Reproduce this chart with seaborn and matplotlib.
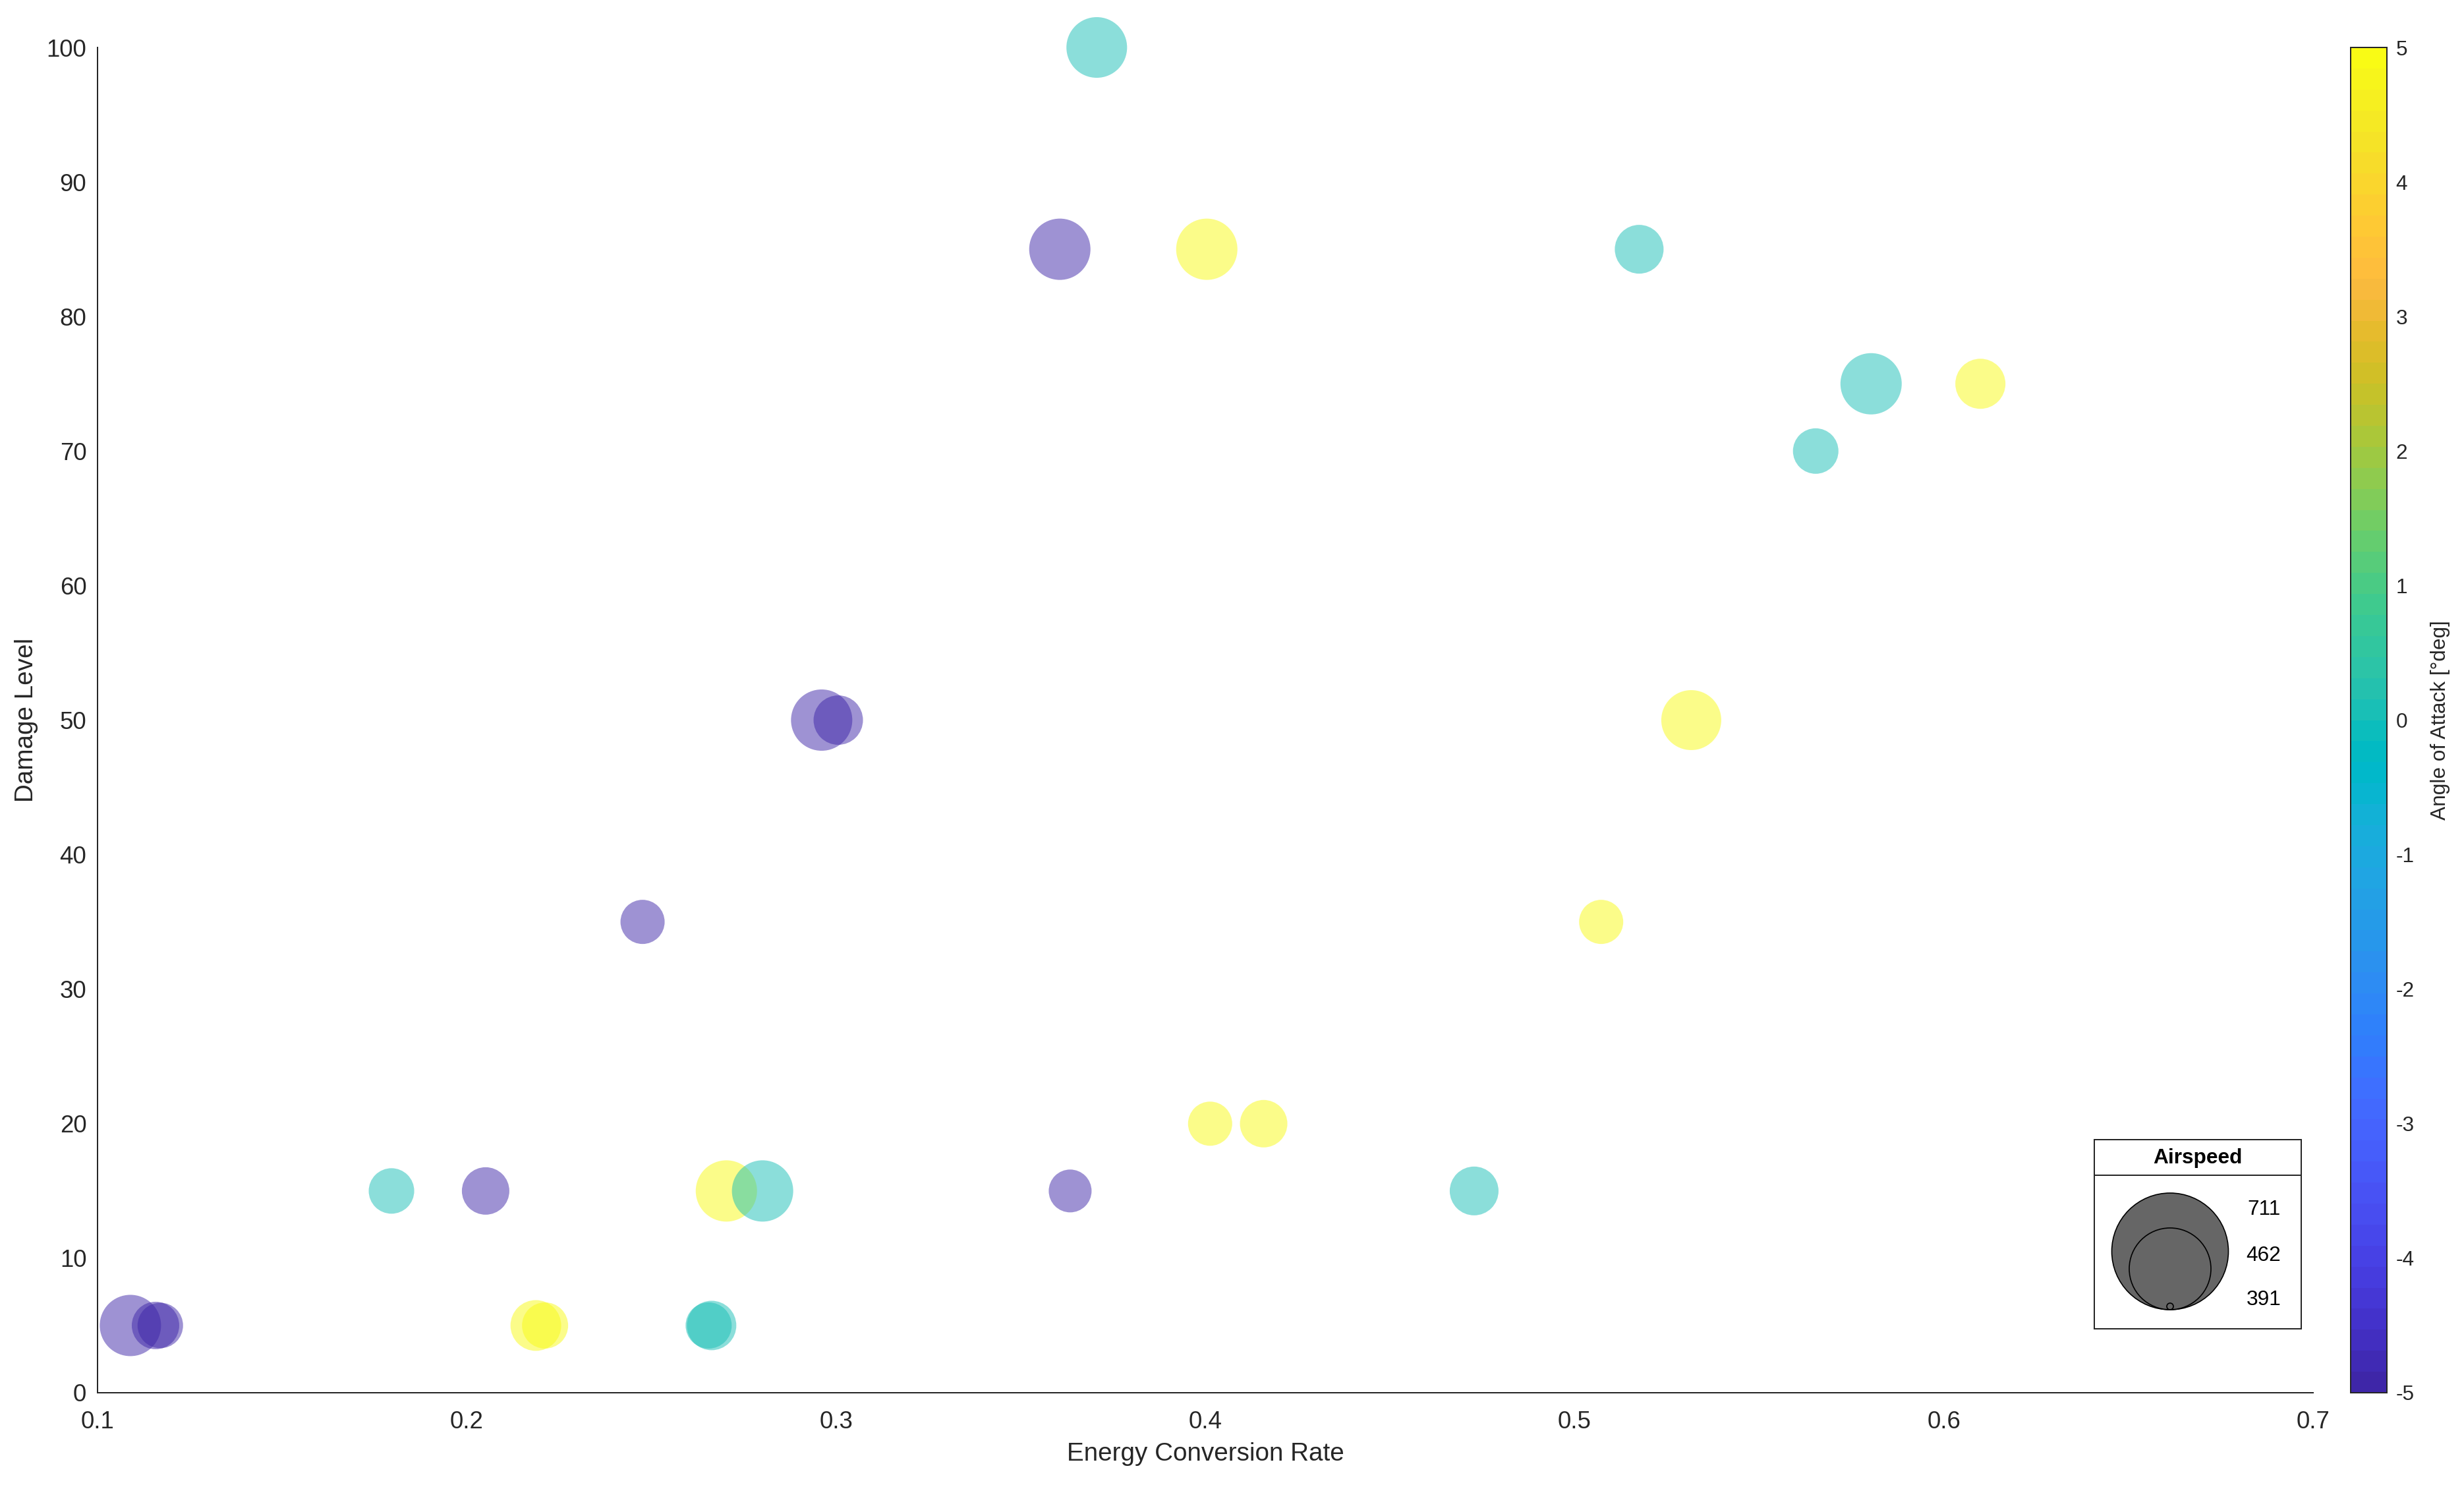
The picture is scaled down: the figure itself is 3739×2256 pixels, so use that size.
import numpy as np
import pandas as pd
import matplotlib
matplotlib.use('Agg')
import matplotlib.pyplot as plt
import seaborn as sns
from matplotlib.colors import ListedColormap, Normalize
from matplotlib.cm import ScalarMappable
from matplotlib.patches import Circle

# Data
energy_rate = [0.1089, 0.1157, 0.1170, 0.1796, 0.2051, 0.2187, 0.2212, 0.2476,
               0.2655, 0.2663, 0.2703, 0.2801, 0.2961, 0.3006, 0.3606, 0.3634,
               0.3706, 0.4004, 0.4013, 0.4158, 0.4728, 0.5072, 0.5175, 0.5316,
               0.5653, 0.5803, 0.6099]
damage_level = [5, 5, 5, 15, 15, 5, 5, 35,
                5, 5, 15, 15, 50, 50, 85, 15,
                100, 85, 20, 20, 15, 35, 85, 50,
                70, 75, 75]
angle_of_attack = [-5, -5, -5, 0, -5, 5, 5, -5,
                   0, 0, 5, 0, -5, -5, -5, -5,
                   0, 5, 5, 5, 0, 5, 0, 5,
                   0, 0, 5]
airspeed = [711, 471, 437, 437, 471, 528, 448, 414,
            448, 505, 711, 711, 711, 505, 711, 391,
            700, 711, 414, 471, 494, 414, 494, 688,
            437, 711, 517]

legend_values = [711, 462, 391]
legend_diam_px = [177, 124, 10]

# MATLAB parula colormap
parula = [
    [0.2422, 0.1504, 0.6603], [0.2504, 0.1650, 0.7076], [0.2578, 0.1818, 0.7511],
    [0.2647, 0.1978, 0.7952], [0.2706, 0.2147, 0.8364], [0.2751, 0.2342, 0.8710],
    [0.2783, 0.2559, 0.8991], [0.2803, 0.2782, 0.9221], [0.2813, 0.3006, 0.9414],
    [0.2810, 0.3228, 0.9579], [0.2795, 0.3447, 0.9717], [0.2760, 0.3667, 0.9829],
    [0.2699, 0.3892, 0.9906], [0.2602, 0.4123, 0.9952], [0.2440, 0.4358, 0.9988],
    [0.2206, 0.4603, 0.9973], [0.1963, 0.4847, 0.9892], [0.1834, 0.5074, 0.9798],
    [0.1786, 0.5289, 0.9682], [0.1764, 0.5499, 0.9520], [0.1687, 0.5703, 0.9359],
    [0.1540, 0.5902, 0.9218], [0.1460, 0.6091, 0.9079], [0.1380, 0.6276, 0.8973],
    [0.1248, 0.6459, 0.8883], [0.1113, 0.6635, 0.8763], [0.0952, 0.6798, 0.8598],
    [0.0689, 0.6948, 0.8394], [0.0297, 0.7082, 0.8163], [0.0036, 0.7203, 0.7917],
    [0.0067, 0.7312, 0.7660], [0.0433, 0.7411, 0.7394], [0.0964, 0.7500, 0.7120],
    [0.1408, 0.7584, 0.6842], [0.1717, 0.7670, 0.6554], [0.1938, 0.7758, 0.6251],
    [0.2161, 0.7843, 0.5923], [0.2470, 0.7918, 0.5567], [0.2906, 0.7973, 0.5188],
    [0.3406, 0.8008, 0.4789], [0.3909, 0.8029, 0.4354], [0.4456, 0.8024, 0.3909],
    [0.5044, 0.7993, 0.3480], [0.5616, 0.7942, 0.3045], [0.6174, 0.7876, 0.2612],
    [0.6720, 0.7793, 0.2227], [0.7242, 0.7698, 0.1910], [0.7738, 0.7598, 0.1646],
    [0.8203, 0.7498, 0.1535], [0.8634, 0.7406, 0.1596], [0.9035, 0.7330, 0.1774],
    [0.9393, 0.7288, 0.2100], [0.9728, 0.7298, 0.2394], [0.9956, 0.7434, 0.2371],
    [0.9970, 0.7659, 0.2199], [0.9952, 0.7893, 0.2028], [0.9892, 0.8136, 0.1885],
    [0.9786, 0.8386, 0.1766], [0.9676, 0.8639, 0.1643], [0.9610, 0.8890, 0.1537],
    [0.9597, 0.9135, 0.1423], [0.9628, 0.9373, 0.1265], [0.9691, 0.9606, 0.1064],
    [0.9769, 0.9839, 0.0805]]
parula_cmap = ListedColormap(parula, name='parula')

df = pd.DataFrame({'rate': energy_rate, 'damage': damage_level,
                   'aoa': angle_of_attack, 'airspeed': airspeed})

sns.set_style('white')
plt.rcParams['font.family'] = ['Liberation Sans', 'DejaVu Sans']
plt.rcParams['axes.unicode_minus'] = False

DPI = 240
W, H = 3739, 2256
fig = plt.figure(figsize=(W / DPI, H / DPI), dpi=DPI)

# axes placement (pixels)
ax_l, ax_r, ax_t, ax_b = 148, 3510, 72, 2113
ax = fig.add_axes([ax_l / W, 1 - ax_b / H, (ax_r - ax_l) / W, (ax_b - ax_t) / H])

# bubble diameter linear in airspeed, like MATLAB bubblechart
amin, amax = min(airspeed), max(airspeed)
dmin_px, dmax_px = 65, 93
px2pt = 72 / DPI
size_map = {a: ((dmin_px + (a - amin) / (amax - amin) * (dmax_px - dmin_px)) * px2pt) ** 2
            for a in sorted(set(airspeed))}

sns.scatterplot(data=df, x='rate', y='damage', hue='aoa', size='airspeed',
                palette=parula_cmap, hue_norm=(-5, 5), sizes=size_map,
                alpha=0.5, linewidth=0, edgecolor='none', legend=False, ax=ax)
for coll in ax.collections:
    coll.set_clip_on(False)

txt_color = '#262626'
ax.set_xlim(0.1, 0.7)
ax.set_ylim(0, 100)
ax.set_xticks(np.arange(0.1, 0.71, 0.1))
ax.set_xticklabels(['0.1', '0.2', '0.3', '0.4', '0.5', '0.6', '0.7'])
ax.set_yticks(np.arange(0, 101, 10))
ax.tick_params(axis='both', direction='in', length=10, width=0.6,
               colors=txt_color, labelsize=11)
ax.tick_params(axis='x', pad=8)
ax.tick_params(axis='y', pad=5)
for s in ['top', 'right']:
    ax.spines[s].set_visible(False)
for s in ['left', 'bottom']:
    ax.spines[s].set_color(txt_color)
    ax.spines[s].set_linewidth(0.6)

ax.set_xlabel('Energy Conversion Rate', fontsize=11.6, color=txt_color)
ax.set_ylabel('Damage Level', fontsize=11.6, color=txt_color)
ax.xaxis.set_label_coords(0.5, (ax_b - 2206) / (ax_b - ax_t))
ax.xaxis.label.set_va('center')
ax.yaxis.set_label_coords((40 - ax_l) / (ax_r - ax_l), 0.5)
ax.yaxis.label.set_va('center')

# colorbar
cb_l, cb_r = 3567, 3622
cax = fig.add_axes([cb_l / W, 1 - ax_b / H, (cb_r - cb_l) / W, (ax_b - ax_t) / H])
sm = ScalarMappable(norm=Normalize(-5, 5), cmap=parula_cmap)
cb = fig.colorbar(sm, cax=cax, ticks=np.arange(-5, 6, 1))
cb.outline.set_edgecolor(txt_color)
cb.outline.set_linewidth(0.6)
cax.tick_params(direction='in', length=6, width=0.6, colors=txt_color,
                labelsize=9.5, pad=4)
cb.set_label('Angle of Attack [°deg]', fontsize=9.5, color=txt_color, rotation=90)
cax.yaxis.set_label_coords((3703 - cb_l) / (cb_r - cb_l), 0.5)
cax.yaxis.label.set_va('center')

# bubble size legend box
lg_l, lg_r, lg_t, lg_b = 3178, 3492, 1729, 2016
lw, lh = lg_r - lg_l, lg_b - lg_t
lax = fig.add_axes([lg_l / W, 1 - lg_b / H, lw / W, lh / H])
lax.set_xlim(0, lw)
lax.set_ylim(0, lh)
lax.set_xticks([])
lax.set_yticks([])
for s in lax.spines.values():
    s.set_color(txt_color)
    s.set_linewidth(0.6)
lax.axhline(lg_b - 1783, color=txt_color, linewidth=0.6)
lax.text(lw / 2, lg_b - 1757, 'Airspeed', ha='center', va='center',
         fontsize=9.5, fontweight='bold', color='black')
base_y = lg_b - 1987
cx = 3293 - lg_l
label_y = [lg_b - 1835, lg_b - 1905, lg_b - 1972]
for val, d, ly in zip(legend_values, legend_diam_px, label_y):
    lax.add_patch(Circle((cx, base_y + d / 2), d / 2, facecolor='#666666',
                         edgecolor='black', linewidth=0.5))
    lax.text(3435 - lg_l, ly, str(val), ha='center', va='center',
             fontsize=9.5, color='black')

fig.savefig('out.png', dpi=DPI)
